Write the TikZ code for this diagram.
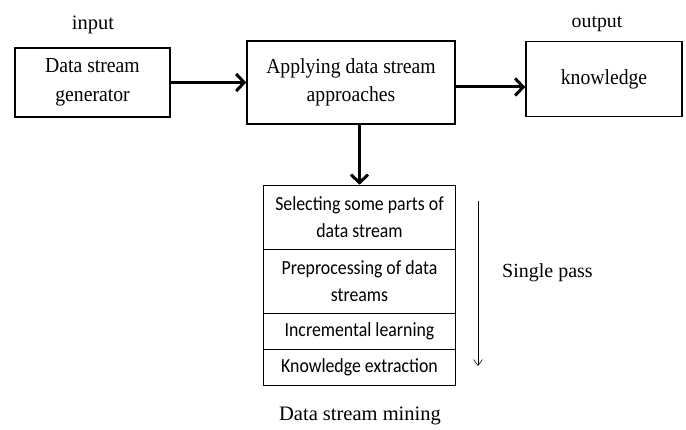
\documentclass[tikz,border=0pt]{standalone}
\usepackage{fontspec}
\setmainfont{Liberation Serif}
\newfontfamily\narrowserif[FakeStretch=0.92]{Liberation Serif}
\newfontfamily\calib[FakeStretch=0.89]{Carlito}
\usetikzlibrary{arrows.meta}
\begin{document}
\begin{tikzpicture}[x=1pt,y=-1pt,
  mainbox/.style={draw,line width=1.5pt,inner sep=0pt,align=center,font=\narrowserif\fontsize{21.4}{28.5}\selectfont},
  stackbox/.style={draw,line width=0.6pt,inner sep=0pt,align=center,font=\calib\fontsize{20}{26.5}\selectfont},
  lbl/.style={inner sep=0pt},
  flow/.style={line width=3pt,-{Straight Barb[length=8pt,width=17pt,line width=3pt]}}]
\useasboundingbox (0,0) rectangle (686,430);
\node[mainbox,minimum width=155pt,minimum height=69pt] (gen) at (92.5,82.5) {Data stream\\generator};
\node[mainbox,minimum width=208pt,minimum height=83pt] (app) at (351,82.5) {Applying data stream\\approaches};
\node[mainbox,minimum width=156pt,minimum height=75pt] (kno) at (604,79) {knowledge};
\node[lbl,font=\fontsize{20.5}{24}\selectfont] (in) at (93,25) {input};
\node[lbl,font=\fontsize{19.8}{24}\selectfont] (out) at (597,24) {output};
\node[stackbox,minimum width=192pt,minimum height=64pt] (s1) at (359.5,217) {Selecting some parts of\\data stream};
\node[stackbox,minimum width=192pt,minimum height=64pt] (s2) at (359.5,281) {Preprocessing of data\\streams};
\node[stackbox,minimum width=192pt,minimum height=36pt] (s3) at (359.5,331) {Incremental learning};
\node[stackbox,minimum width=192pt,minimum height=36pt] (s4) at (359.5,367) {Knowledge extraction};
\coordinate (pa) at (478,201);
\coordinate (pb) at (478,366);
\draw[line width=0.6pt,-{Straight Barb[length=6pt,width=9pt,line width=0.6pt]}] (pa) -- (pb);
\node[lbl,anchor=west,font=\fontsize{20}{24}\selectfont] (sp) at (502,273) {Single pass};
\node[lbl,font=\fontsize{20.5}{24}\selectfont] (dsm) at (360,416) {Data stream mining};
\draw[flow] (gen.east) -- (app.west);
\draw[flow] ([yshift=-4.5pt]app.east) -- ([yshift=-8pt]kno.west);
\draw[flow] (app.south -| s1.north) -- (s1.north);
\end{tikzpicture}
\end{document}
